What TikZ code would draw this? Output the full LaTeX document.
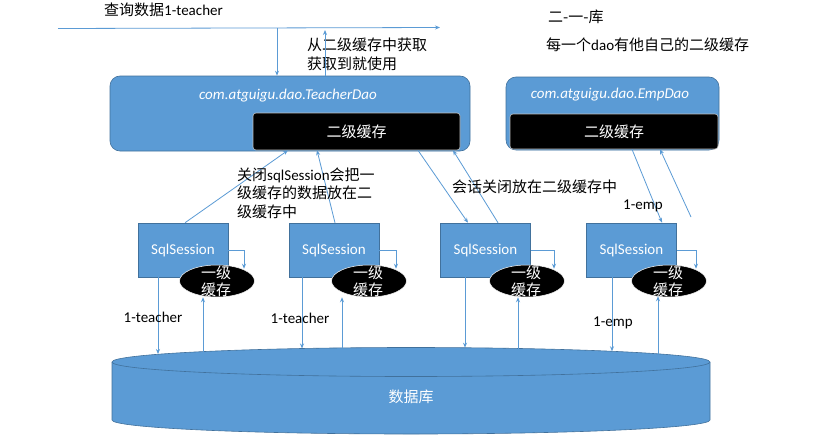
\documentclass[tikz,border=0pt]{standalone}
\usepackage{fontspec}
\setmainfont{Carlito}
\newfontfamily\cjk{Noto Sans CJK SC}
\usetikzlibrary{arrows.meta,shapes.geometric}
\definecolor{boxblue}{HTML}{5B9BD5}
\definecolor{edgeblue}{HTML}{41719C}
\definecolor{lineblue}{HTML}{5B9BD5}
\tikzset{
  arr/.style={draw=lineblue, line width=0.8pt, -{Stealth[length=5pt,width=4pt]}},
  plain/.style={draw=lineblue, line width=0.8pt},
  daobox/.style={rectangle, rounded corners=10pt, fill=boxblue, draw=edgeblue, line width=0.6pt},
  cachebox/.style={rectangle, rounded corners=3pt, fill=black, draw=gray!50, line width=0.6pt, text=white, font=\cjk\fontsize{15}{18}\selectfont},
  sessbox/.style={rectangle, fill=boxblue, draw=edgeblue, line width=0.5pt, minimum width=90pt, minimum height=54pt, text=white, font=\fontsize{15}{18}\selectfont},
  l1cache/.style={ellipse, fill=black, draw=white, line width=0.5pt, minimum width=75pt, minimum height=32pt, inner sep=0pt},
  lbl/.style={font=\fontsize{15}{18.5}\selectfont, inner sep=0pt},
  ttl/.style={font=\fontsize{15}{18}\selectfont\itshape, text=white, inner sep=0pt}
}
\begin{document}
\begin{tikzpicture}[x=1pt,y=-1pt]
\useasboundingbox[fill=white] (0,0) rectangle (816,444);

% top texts
\node[lbl, anchor=west] (q1) at (104,10) {{\cjk 查询数据}1-teacher};
\node[lbl, anchor=north west, align=left] (q2) at (307,38) {\cjk 从二级缓存中获取\\\cjk 获取到就使用};
\node[lbl, anchor=west] (n1) at (548,17) {\cjk 二-一-库};
\node[lbl, anchor=west] (n2) at (546,45) {{\cjk 每一个}dao{\cjk 有他自己的二级缓存}};

% DAO boxes
\node[daobox, minimum width=360pt, minimum height=75pt] (td) at (290,113.5) {};
\node[ttl] (tdt) at (288,96) {com.atguigu.dao.TeacherDao};
\node[cachebox, minimum width=207pt, minimum height=37pt] (tdc) at (356.5,131.5) {二级缓存};

\node[daobox, minimum width=213pt, minimum height=73pt] (ed) at (612.5,113.5) {};
\node[ttl] (edt) at (610,95) {com.atguigu.dao.EmpDao};
\node[cachebox, minimum width=208pt, minimum height=35pt] (edc) at (614,131.5) {二级缓存};

% top line and arrows
\coordinate (L) at (58,28.5);
\coordinate (R) at (440,27.5);
\draw[arr] (L) -- (R);
\coordinate (qa) at (277,28.5);
\coordinate (qb) at (325,30);
\draw[arr] (qa) -- (qa |- td.north);
\draw[arr] (qb |- td.north) -- (qb);

% sessions
\node[sessbox] (s1) at (183,250) {SqlSession};
\node[sessbox] (s2) at (334,250) {SqlSession};
\node[sessbox] (s3) at (485.5,250) {SqlSession};
\node[sessbox] (s4) at (631.5,250) {SqlSession};

\foreach \i/\x in {1/217,2/369,3/527,4/669}{
  \node[l1cache] (c\i) at (\x,281) {};
  \node[font=\cjk\fontsize{15}{17}\selectfont, text=white, align=center, inner sep=0pt] (ct\i) at (\x-1,281) {一级\\缓存};
  \draw[arr] (s\i.east) -| ([xshift=27pt,yshift=-4pt]c\i.north);
}

% database cylinder
\fill[boxblue] (112,362) -- (112,420) arc[start angle=180,end angle=0,x radius=299,y radius=14] -- (710,362) arc[start angle=0,end angle=-180,x radius=299,y radius=14.5] -- cycle;
\draw[edgeblue, line width=0.6pt] (112,362) -- (112,420) arc[start angle=180,end angle=0,x radius=299,y radius=14] -- (710,362);
\draw[edgeblue, line width=0.6pt] (411,362) ellipse[x radius=299, y radius=14.5];
\node[font=\cjk\fontsize{15}{18}\selectfont, text=white] (db) at (411,397) {数据库};

% session <-> database
\coordinate (d1a) at (158,354); \coordinate (d1b) at (203,351.5);
\coordinate (d2a) at (302,348.5); \coordinate (d2b) at (342,348);
\coordinate (d3a) at (465,347.7); \coordinate (d3b) at (518,348.5);
\coordinate (d4a) at (612,351.3); \coordinate (d4b) at (658,353.8);
\draw[arr] (s1.south -| d1a) -- (d1a);
\draw[arr] (d1b) -- (d1b |- c1.south);
\draw[arr] (s2.south -| d2a) -- (d2a);
\draw[arr] (d2b) -- (d2b |- c2.south);
\draw[arr] (s3.south -| d3a) -- (d3a);
\draw[arr] (d3b) -- (d3b |- c3.south);
\draw[arr] (s4.south -| d4a) -- (d4a);
\draw[arr] (d4b) -- ([yshift=1pt]d4b |- c4.south);

% session <-> second level cache
\draw[arr] ([xshift=2pt]s1.north) -- ([xshift=-68.5pt]tdc.south);
\draw[arr] ([xshift=1pt]s2.north) -- ([xshift=-39.5pt]tdc.south);
\draw[arr] ([xshift=61.5pt]tdc.south) -- ([xshift=-17.5pt]s3.north);
\draw[arr] ([xshift=12.5pt]s3.north) -- ([xshift=96.5pt]tdc.south);
\draw[arr] ([xshift=18pt]edc.south) -- ([xshift=30.5pt]s4.north);
\coordinate (f4) at (691,217);
\draw[arr] (f4) -- ([xshift=46pt]edc.south);

% labels
\node[lbl, anchor=west, align=left] (m1) at (237,193) {{\cjk 关闭}sqlSession{\cjk 会把一}\\\cjk 级缓存的数据放在二\\\cjk 级缓存中};
\node[lbl, anchor=west] (m2) at (452,187) {\cjk 会话关闭放在二级缓存中};
\node[lbl] (e1) at (643,206) {1-emp};
\node[lbl] (e2) at (613,323) {1-emp};
\node[lbl] (t1) at (153,317) {1-teacher};
\node[lbl] (t2) at (300,318) {1-teacher};
\end{tikzpicture}
\end{document}
